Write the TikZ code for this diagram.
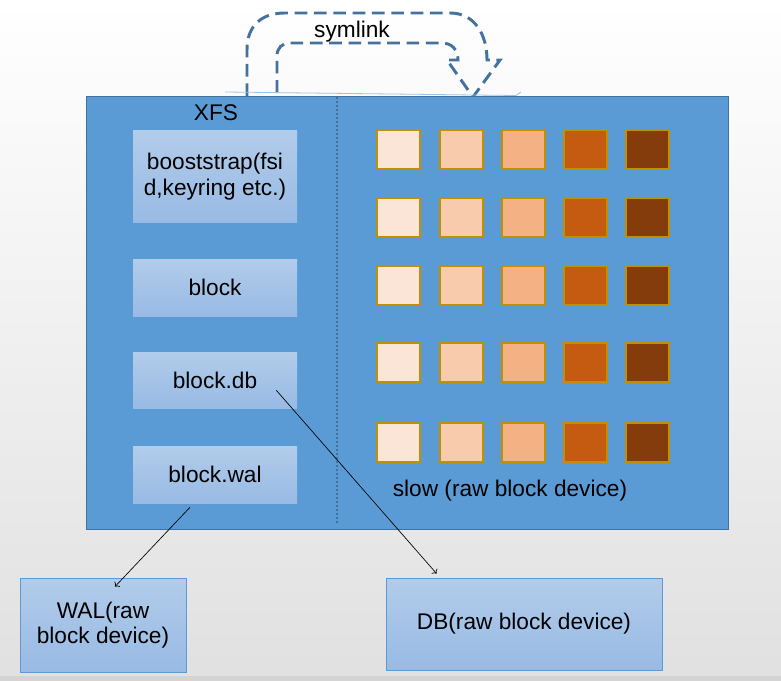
\documentclass[tikz,border=0pt]{standalone}
\usepackage{fontspec}
\setmainfont{Liberation Sans}
\usetikzlibrary{calc, positioning, arrows.meta}
\usepackage{xcolor}

\definecolor{xfsblue}{HTML}{5B9BD5}
\definecolor{xfsedge}{HTML}{41719C}
\definecolor{boxtop}{HTML}{B2CCEA}
\definecolor{boxbot}{HTML}{98BAE4}
\definecolor{linkblue}{HTML}{44729F}
\definecolor{sqa}{HTML}{FBE5D6}
\definecolor{sqb}{HTML}{F8CBAD}
\definecolor{sqc}{HTML}{F4B183}
\definecolor{sqd}{HTML}{C55A11}
\definecolor{sqe}{HTML}{843C0C}
\definecolor{sqedge}{HTML}{BF9000}

\begin{document}
\begin{tikzpicture}[x=0.75pt, y=-0.75pt,
	txt/.style={font=\fontsize{17}{19}\selectfont, align=center},
	xfs/.style={draw=xfsedge, line width=0.6pt, fill=xfsblue, inner sep=0pt, minimum width=481.5pt, minimum height=324.75pt},
	part/.style={txt, inner sep=0pt, top color=boxtop, bottom color=boxbot, minimum width=123pt},
	device/.style={part, draw=xfsblue, line width=0.6pt},
	cell/.style={draw=sqedge, line width=0.9pt, inner sep=0pt, minimum width=32.25pt, minimum height=29.25pt},
	symlink/.style={draw=linkblue, line width=2.2pt, dash pattern=on 9.5pt off 5pt},
	link/.style={->, black, line width=0.5pt}]
			% background
			\fill[top color=white, bottom color=black!12] (0,0) rectangle (781,681);
			\fill[black!17] (0,676) rectangle (781,681);
			
			% symlink arrow
			\draw[symlink] (247,96) -- (247,50) .. controls (247,25) and (262,13) .. (285,13) -- (450,13)
				.. controls (475,13) and (487,35) .. (487,60) -- (500,60) -- (473,97) -- (447,60) -- (458,60)
				.. controls (458,50) and (452,43) .. (442,43) -- (290,43) .. controls (282,43) and (277,48) .. (277,56) -- (277,96);
			\draw[xfsblue!60, line width=0.6pt] (225,92) -- (516,95.5) -- (521,92);
			\node[txt] (symlinklbl) at (352,32) {symlink};
			
			% XFS
			\node[xfs] (xfs) at (407,312.5) {};
			\node[txt] (xfslbl) at (216,113) {XFS};
			\draw[xfsedge, line width=1.8pt, dash pattern=on 1.5pt off 1.5pt] (337,97) -- (337,523);
			
			\node[part, minimum height=68.25pt] (boot) at (215,176.5) {booststrap(fsi\\d,keyring etc.)};
			\node[part, minimum height=42.75pt] (block) at (215,287.5) {block};
			\node[part, minimum height=42pt] (db) at (215,380) {block.db};
			\node[part, minimum height=42.75pt] (wal) at (215,474.5) {block.wal};
			
			\foreach \y [count=\r] in {149.5,217.5,285.5,362.5,442.5}
				\foreach \x/\c [count=\k] in {398.5/sqa, 461.5/sqb, 523.5/sqc, 585.5/sqd, 647.5/sqe}
					\node[cell, fill=\c] (c\r\k) at (\x,\y) {};
			\node[txt] (slowlbl) at (510,491) {slow (raw block device)};
			
			% raw devices
			\node[device, minimum width=124.5pt, minimum height=70.5pt] (walbox) at (103,625) {WAL(raw\\block device)};
			\node[device, minimum width=207pt, minimum height=69pt] (dbbox) at (524,624) {DB(raw block device)};
			
			\draw[link] ($(wal.south)+(-25,4)$) -- ($(walbox.north)+(12,9)$);
			\draw[link] ($(db.south east)+(-21,-18)$) -- ($(dbbox.north west)+(51,-4)$);
\end{tikzpicture}
\end{document}
